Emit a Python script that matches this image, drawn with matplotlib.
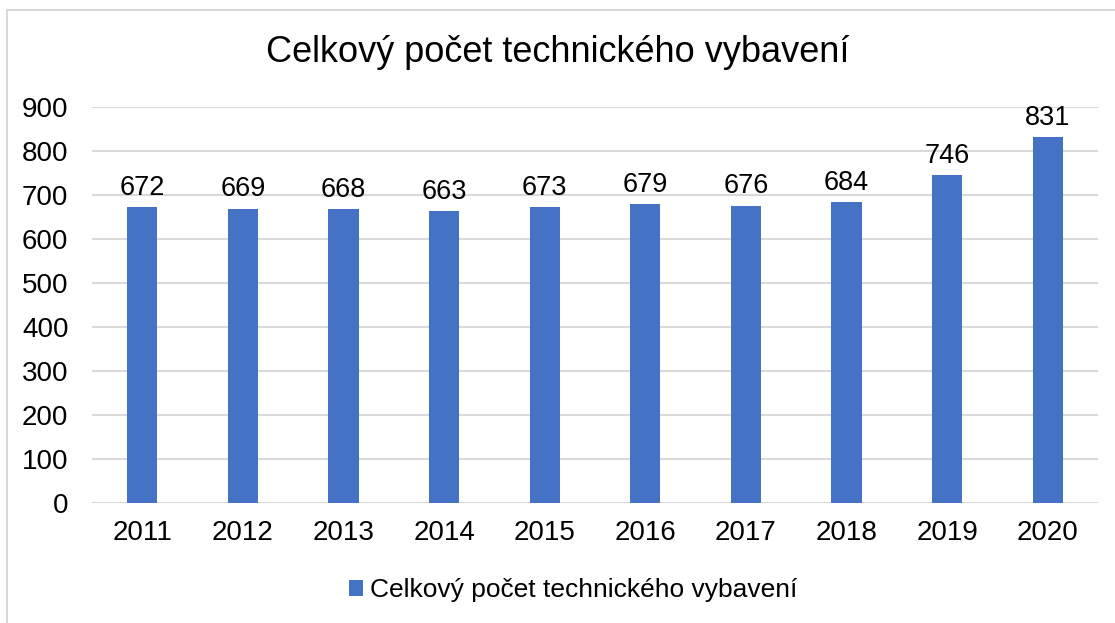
import matplotlib.pyplot as plt
import numpy as np

plt.rcParams['font.family'] = ['Liberation Sans', 'DejaVu Sans']

years = ['2011', '2012', '2013', '2014', '2015', '2016', '2017', '2018', '2019', '2020']
values = [672, 669, 668, 663, 673, 679, 676, 684, 746, 831]
series_name = 'Celkový počet technického vybavení'

fig = plt.figure(figsize=(11.15, 6.23), dpi=100)
ax = fig.add_axes([92/1115, 1 - 503/623, (1098-92)/1115, (503-107)/623])

x = np.arange(len(years))
bars = ax.bar(x, values, width=0.3, color='#4472C4', label=series_name, zorder=3)
for xi, v in zip(x, values):
    ax.text(xi, v + 14, str(v), ha='center', va='bottom', fontsize=19.5, color='#000000')

ax.set_xlim(-0.5, len(years) - 0.5)
ax.set_ylim(0, 900)
ax.set_yticks(range(0, 901, 100))
ax.set_xticks(x)
ax.set_xticklabels(years)
ax.tick_params(axis='both', length=0, labelsize=20, colors='#000000')
ax.tick_params(axis='x', pad=12)
ax.tick_params(axis='y', pad=17)
ax.grid(axis='y', color='#D9D9D9', linewidth=1.5, zorder=0)
for s in ax.spines.values():
    s.set_visible(False)

fig.text(0.5, 1 - 53/623, series_name, ha='center', va='center', fontsize=26)
fig.legend(loc='center', bbox_to_anchor=(573/1115, 1 - 590/623), frameon=False, fontsize=19,
           handlelength=0.55, handleheight=0.55, handletextpad=0.25)

# light frame (top/left edge of the chart area)
fig.add_artist(plt.Line2D([7/1115, 7/1115], [0, 1 - 10/623], color='#D9D9D9', lw=1.5))
fig.add_artist(plt.Line2D([7/1115, 1], [1 - 10/623, 1 - 10/623], color='#D9D9D9', lw=1.5))

fig.savefig('out.png', dpi=100)
